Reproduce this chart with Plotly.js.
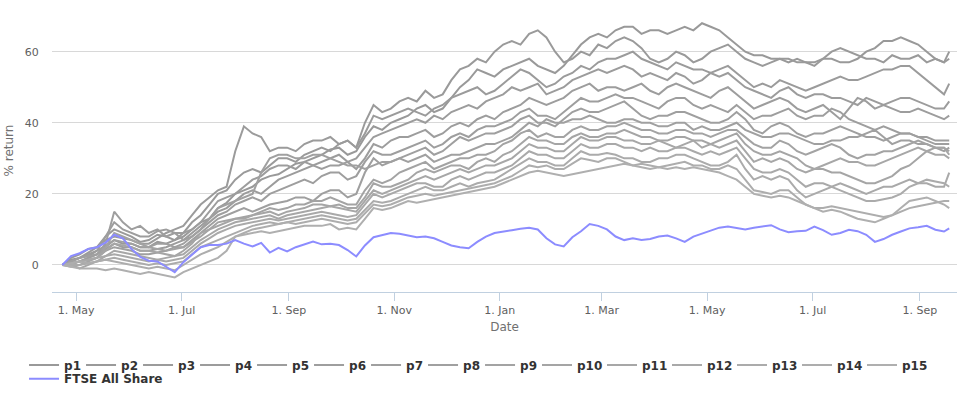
<!DOCTYPE html>
<html>
<head>
<meta charset="utf-8">
<script src="https://cdn.plot.ly/plotly-3.0.1.min.js"></script>
<style>html,body{margin:0;padding:0;background:#fff;}#chart{width:964px;height:393px;}</style>
</head>
<body>
<div id="chart"></div>
<script>
// Dates (every 5 days, last point Sep 18)
var dates = [
"2013-04-23","2013-04-28","2013-05-03","2013-05-08","2013-05-13","2013-05-18","2013-05-23","2013-05-28",
"2013-06-02","2013-06-07","2013-06-12","2013-06-17","2013-06-22","2013-06-27",
"2013-07-02","2013-07-07","2013-07-12","2013-07-17","2013-07-22","2013-07-27",
"2013-08-01","2013-08-06","2013-08-11","2013-08-16","2013-08-21","2013-08-26","2013-08-31",
"2013-09-05","2013-09-10","2013-09-15","2013-09-20","2013-09-25","2013-09-30",
"2013-10-05","2013-10-10","2013-10-15","2013-10-20","2013-10-25","2013-10-30",
"2013-11-04","2013-11-09","2013-11-14","2013-11-19","2013-11-24","2013-11-29",
"2013-12-04","2013-12-09","2013-12-14","2013-12-19","2013-12-24","2013-12-29",
"2014-01-03","2014-01-08","2014-01-13","2014-01-18","2014-01-23","2014-01-28",
"2014-02-02","2014-02-07","2014-02-12","2014-02-17","2014-02-22","2014-02-27",
"2014-03-04","2014-03-09","2014-03-14","2014-03-19","2014-03-24","2014-03-29",
"2014-04-03","2014-04-08","2014-04-13","2014-04-18","2014-04-23","2014-04-28",
"2014-05-03","2014-05-08","2014-05-13","2014-05-18","2014-05-23","2014-05-28",
"2014-06-02","2014-06-07","2014-06-12","2014-06-17","2014-06-22","2014-06-27",
"2014-07-02","2014-07-07","2014-07-12","2014-07-17","2014-07-22","2014-07-27",
"2014-08-01","2014-08-06","2014-08-11","2014-08-16","2014-08-21","2014-08-26","2014-08-31",
"2014-09-05","2014-09-10","2014-09-15","2014-09-18"];

var p1 = [0,1.5,2,2.5,4,5.5,7,6,6,5, 5,6.5,6,7,8,10,12,13,16,17.5, 20,21,22,24,25,25.5,27,28.5,29,30, 31,32.5,33,31,32,36,39,38,40,41, 42,44,45,43,44,47,50,52,55,54, 53,55,56,57,58,56,55,54,56,59, 62,64,65,64,66,67,67,65,66,66, 65,66,67,66,68,67,66,64,62,60, 59,59,58,58,57,58,57,57,58,58, 57,57,58,60,61,63,63,64,63,62, 60,58,57,60];
var p2 = [0,2,3,4.5,5,8,10,9,8,6.5, 7,8.5,8,7,9,12,14,17,20,21, 24,26,27,26,28,30,30,29,31,32, 33,32,34,35,33,40,45,43,44,46, 47,46,49,47,48,52,55,56,58,57, 60,62,63,62,65,66,64,60,57,58, 60,59,62,61,63,64,63,61,58,57, 58,60,59,57,58,60,61,62,60,58, 57,56,57,58,58,57,57,56,58,60, 61,60,59,58,58,57,59,58,58,59, 57,58,57,58];
var p3 = [0,1,2,3.5,5,7,8,7.5,7,6, 6,7.5,9,10,11,14,17,19,21,22, 32,39,37,36,32,33,33,32,34,35, 35,36,34,35,33,37,42,41,42,43, 44,43,42,44,45,47,48,49,50,48, 49,51,53,55,54,52,50,51,53,54, 56,55,57,58,58,59,60,58,57,56, 55,57,56,55,55,54,55,56,54,52, 50,51,50,52,51,50,49,50,51,52, 53,52,52,53,54,55,55,56,56,54, 52,50,48,51];
var p4 = [0,0.5,1,2,3,4.5,6,5,5,4, 4,4.5,5,6,7,9,11,13,15,16, 18,20,21,20,22,24,25,26,27,28, 29,30,31,29,30,33,36,37,38,39, 40,41,40,42,41,43,44,45,44,46, 47,48,50,49,50,51,48,49,50,52, 53,54,55,54,55,56,55,53,54,53, 52,54,53,51,52,54,53,54,52,50, 49,48,47,49,50,48,47,48,48,47, 47,46,45,47,46,45,46,47,47,46, 45,44,44,46];
var p5 = [0,1,2,3,4,8,12,10,9,8, 8,9.5,10,9,9,10,12,15,18,19, 20,22,24,25,27,28,28,27,29,28, 27,28,28,29,27,30,34,33,35,36, 36,37,38,36,37,39,40,39,41,42, 41,43,44,45,47,46,45,46,47,49, 50,51,49,50,50,49,50,51,49,48, 50,51,50,49,48,47,49,50,48,46, 44,45,46,47,46,44,43,44,45,43, 41,44,47,46,44,45,44,43,43,44, 43,42,41,42];
var p6 = [0,0.5,1,2,3,6,15,12,10,11, 9,10,8,9,7,8,10,12,14,15, 17,18,19,18,20,21,22,23,24,23, 25,26,26,24,25,29,32,31,31,32, 33,34,35,33,34,36,37,36,38,39, 39,40,41,43,44,42,42,41,43,45, 47,46,46,47,48,47,47,46,45,44, 46,47,47,45,44,45,44,43,45,43, 41,42,42,43,44,42,41,42,42,44, 43,41,40,39,38,39,38,37,37,36, 36,35,35,35];
var p7 = [0,0.5,1,1.5,2,4,5,4.5,4,3, 3,3.5,4,5,5,7,9,11,13,14, 15,16,15,16,17,17.5,18,19,19,18, 20,21,21,19,20,26,30,28,29,30, 31,32,33,31,32,34,36,35,36,37, 37,38,39,41,42,40,40,39,41,43, 44,43,43,44,45,46,44,42,41,42, 42,43,43,42,41,40,40,41,43,41, 38,37,39,40,39,37,36,37,37,38, 39,38,37,36,36,35,36,37,37,36, 35,34,34,34];
var p8 = [0,1,2,2.5,3,5,7,6.5,6,5, 5,6,6,5,6,8,10,13,16,17, 18,19,20,26,30,31,31,30,30,31, 31,30,29,28,28,27,28,29,29,30, 29,30,31,29,30,31,31,32,33,34, 34,35,36,38,40,39,41,40,40,41, 41,42,41,40,40,41,41,40,40,39, 39,40,40,38,39,38,38,39,40,38, 37,36,36,37,37,36,35,34,34,35, 35,36,36,37,38,36,34,35,35,34, 34,33,32,33];
var p9 = [0,0,1,1.5,2,5,9,8,7,6, 5,4.5,4,4.5,5,6.5,8,10,12,12.5, 13,13.5,14,15,16,15.5,16,17,17,18, 18,19,18,17,17,21,24,23,24,26, 27,28,29,27,28,29,30,30,31,31, 32,34,35,37,38,36,37,36,36,38, 39,38,38,39,39,40,39,38,38,37, 37,38,38,37,37,36,37,38,38,36, 34,33,33,35,34,32,31,32,33,34, 33,31,30,31,31,32,32,33,34,35, 34,33,33,32];
var p10 = [0,-0.5,0,1,2,4,6,5.5,5,4, 4,3.5,3,2.5,4,6,9,10,11,12, 13,13,14,14.5,15,14,15,15.5,16,17, 17,16.5,17,16,16,19,23,22,22,23, 24,26,27,26,27,28,28,27,29,30, 29,31,32,34,36,35,35,34,34,36, 37,36,36,37,37,38,37,36,36,35, 35,36,36,35,35,34,35,36,37,34, 32,31,31,32,31,30,28,27,27,26, 26,25,24,23,23,24,25,27,28,30, 32,33,33,31];
var p11 = [0,0,-1,0,1,2.5,4,3.5,3,2.5, 2,1.5,2,2.5,3,5,7,8.5,10,11, 12,12.5,13,13.5,14,13,14,14.5,15,15.5, 16,16.5,16,15.5,15,18,21,20,21,22, 23,24,25,24,25,26,27,26,27,28, 28,29,30,32,34,33,33,32,32,34, 36,35,35,36,36,35,35,34,34,35, 34,33,34,35,33,34,33,34,35,32, 29,30,29,30,29,27,26,27,28,29, 30,29,29,28,28,29,30,31,32,33, 32,31,31,30];
var p12 = [0,0.5,1,1.5,2,2.5,3,2.5,2,1.5, 1,1.5,1,1.5,2,4,6,7.5,9,10, 11,11.5,12,12.5,13,12.5,13,13.5,14,14.5, 15,14.5,14,13.5,14,17,20,19,20,21, 22,23,23,22,22,24,25,24,25,26, 26,27,28,30,32,31,31,30,30,32, 34,33,33,34,34,33,33,32,33,32, 32,33,33,32,31,32,31,32,33,30, 27,26,26,27,26,24,22,23,23,22, 23,22,21,20,21,22,22,23,24,23, 23,22,22,26];
var p13 = [0,0,0,0.5,1,1.5,2,1.5,1,0.5, 0,0.5,0,0.5,1,3,5,6,7,8, 9,10,11,11.5,12,11.5,12,12.5,13,13.5, 14,13.5,13,12.5,13,15.5,18,17.5,18,19, 20,21,22,21,21,22,23,22,23,23.5, 24,25.5,27,28.5,30,29,29,28,28,30, 32,31,31,31.5,31,30,30,29,29,30, 30,31,31,30,29,28,28,29,31,27, 24,25,24,25,24,21,19,20,21,22, 21,20,19,18,18,18.5,19,20,22,23, 24,23.5,23,22];
var p14 = [0,0.5,1,0.5,1,1.5,1,0.5,0,-0.5, -1,-0.5,-1,-1.5,0,1.5,3,4,5,6.5, 8,9,10,10.5,11,11.5,12,11.5,12,12.5, 13,12.5,12,11.5,12,14.5,17,16.5,17,18, 19,19.5,20,19.5,20,20.5,21,21.5,22,22.5, 23,24,25,26.5,28,27.5,28,27,27,28.5, 30,29.5,29,30,30,29,28,28.5,28,27.5, 28,28.5,29,28,28,27,27,28,27,24, 21,20.5,20,21,21,19,17,16,16,16.5, 16,15.5,15,14.5,14,13.5,14,15,16,16.5, 17,17.5,18,18];
var p15 = [0,-0.5,-1,-1,-1,-1.5,-1,-1.5,-2,-2.5, -2,-2.5,-3,-3.5,-2,-1,0,1,2,4, 8,8.5,9,9.5,9,9.5,10,10.5,11,11, 11,11.5,10,10.5,10,13,16,15.5,16,17, 18,17.5,18,18.5,19,19.5,20,20.5,21,21.5, 22,23,24,25,26,26.5,26,25.5,25,25.5, 26,26.5,27,27.5,28,28.5,28,27.5,27,27.5, 27,27.5,27,27.5,27,26.5,26,25,24,22, 20,19.5,19,19.5,19,18,17,16,15,15.5, 15,14,13,12.5,12,13,14,16,18,18.5, 19,18,17,16];
var ftse = [0,2.5,3.3,4.5,5.0,6.3,8.5,7.5,4.5,2.3, 1.2,1.0,-0.5,-2.0,0.8,3.0,5.0,5.6,5.6,6.0, 7.0,6.0,5.2,6.2,3.5,4.8,3.8,5.0,5.8,6.6, 5.8,6.0,5.6,4.2,2.4,5.5,7.8,8.5,9.0,8.8, 8.2,7.8,8.0,7.5,6.5,5.5,5.0,4.7,6.5,8.0, 9.0,9.5,9.8,10.2,10.5,10.0,7.5,5.8,5.2,7.8, 9.5,11.5,11.0,10.0,8.0,7.0,7.5,7.0,7.3,8.0, 8.3,7.5,6.5,8.0,8.8,9.8,10.5,10.8,10.3,10.0, 10.5,10.8,11.2,10.0,9.2,9.5,9.6,10.8,9.8,8.5, 9.0,9.9,9.5,8.5,6.5,7.3,8.5,9.4,10.3,10.6, 11.0,9.9,9.4,10.3];

var seriesNames = ["p1","p2","p3","p4","p5","p6","p7","p8","p9","p10","p11","p12","p13","p14","p15"];
var seriesValues = [p1,p2,p3,p4,p5,p6,p7,p8,p9,p10,p11,p12,p13,p14,p15];
var grayColors = ["#999999","#9a9a9a","#9b9b9b","#9c9c9c","#9d9d9d","#9e9e9e","#9f9f9f","#a0a0a0","#a3a3a3","#a5a5a5","#a7a7a7","#a9a9a9","#ababab","#adadad","#afafaf"];

var FONT = "DejaVu Sans, Lucida Grande, sans-serif";
var traces = [];
for (var i = 0; i < seriesNames.length; i++) {
  traces.push({
    type: "scatter", mode: "lines", name: seriesNames[i],
    x: dates, y: seriesValues[i],
    line: {color: grayColors[i], width: 2},
    legend: i < 9 ? "legend" : "legend2",
    hoverinfo: "skip"
  });
}
traces.push({
  type: "scatter", mode: "lines", name: "FTSE All Share",
  x: dates, y: ftse,
  line: {color: "#8c8cff", width: 2},
  legend: "legend3",
  hoverinfo: "skip"
});

var legendBase = {
  orientation: "h", xanchor: "left", yanchor: "top",
  bgcolor: "rgba(0,0,0,0)", borderwidth: 0,
  font: {family: FONT, size: 12, color: "#333333", weight: "bold"},
  itemclick: false, itemdoubleclick: false
};
function leg(extra) { var o = JSON.parse(JSON.stringify(legendBase)); for (var k in extra) o[k] = extra[k]; return o; }

var tickDates = ["2013-05-01","2013-07-01","2013-09-01","2013-11-01","2014-01-01","2014-03-01","2014-05-01","2014-07-01","2014-09-01"];
var tickLabels = ["1. May","1. Jul","1. Sep","1. Nov","1. Jan","1. Mar","1. May","1. Jul","1. Sep"];

var layout = {
  width: 964, height: 393,
  margin: {l: 52, r: 7, t: 9, b: 101, autoexpand: false},
  paper_bgcolor: "#ffffff", plot_bgcolor: "#ffffff",
  font: {family: FONT, size: 11, color: "#606060"},
  showlegend: true,
  xaxis: {
    type: "date", range: ["2013-04-17", "2014-09-22 12:00"],
    tickvals: tickDates, ticktext: tickLabels,
    showgrid: false, zeroline: false,
    showline: true, linecolor: "#C0D0E0", linewidth: 1,
    ticks: "outside", ticklen: 8, tickcolor: "#C0D0E0", tickwidth: 1,
    tickfont: {family: FONT, size: 11, color: "#606060"},
    title: {text: "Date", font: {family: FONT, size: 12, color: "#707070"}, standoff: 6},
    automargin: false, fixedrange: true
  },
  yaxis: {
    range: [-7.6, 72], tickvals: [0,20,40,60],
    showgrid: true, gridcolor: "#D8D8D8", gridwidth: 1,
    zeroline: false, showline: false,
    ticks: "outside", ticklen: 10, tickcolor: "rgba(0,0,0,0)",
    tickfont: {family: FONT, size: 11, color: "#606060"},
    title: {text: "% return", font: {family: FONT, size: 12, color: "#707070"}, standoff: 8},
    automargin: false, fixedrange: true
  },
  legend: leg({x: -0.0309, y: -0.207, entrywidth: 12}),
  legend2: leg({x: (537 - 52) / 905, y: -0.207, entrywidth: 20}),
  legend3: leg({x: -0.0309, y: -0.255})
};

Plotly.newPlot("chart", traces, layout, {displayModeBar: false, staticPlot: true});
</script>
</body>
</html>
